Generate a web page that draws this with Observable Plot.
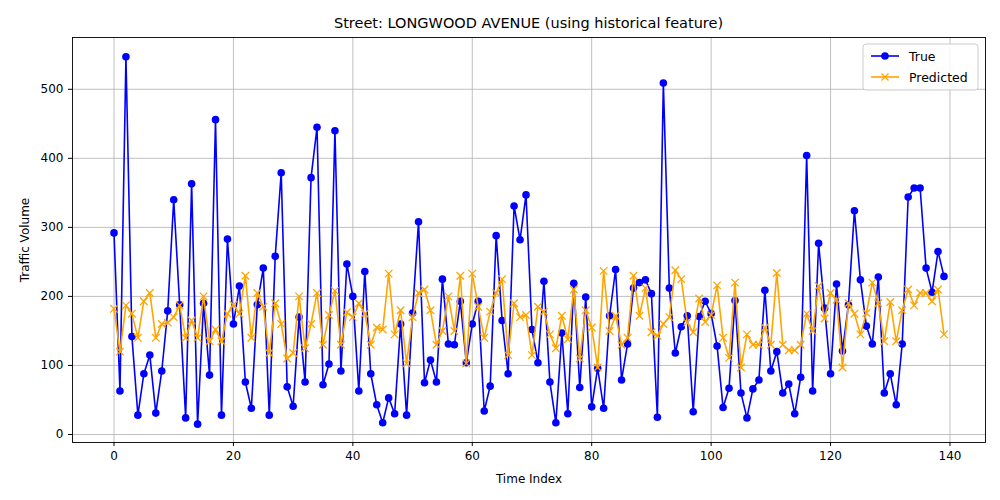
<!DOCTYPE html>
<html><head><meta charset="utf-8">
<script src="https://cdn.jsdelivr.net/npm/d3@7"></script>
<script src="https://cdn.jsdelivr.net/npm/@observablehq/plot@0.6"></script>
<style>body{margin:0;background:#fff;font-family:"DejaVu Sans",sans-serif}</style>
</head><body><div id="chart"></div>
<script>
const trueValues = [292,63,547,142,28,88,115,31,92,179,340,188,24,363,15,190,86,456,28,283,160,215,76,38,188,241,28,258,379,69,41,170,76,372,445,72,102,440,92,247,200,63,236,88,43,17,53,30,160,28,176,308,75,108,76,225,131,130,193,104,160,193,34,70,288,165,88,331,282,347,152,104,222,76,17,147,30,219,68,199,40,96,38,172,239,79,131,212,220,224,204,25,509,212,118,156,172,33,171,193,175,128,39,67,194,60,24,66,79,209,92,120,60,73,30,83,404,63,277,183,88,218,121,188,324,224,157,131,228,60,88,43,131,344,357,357,241,206,265,229];
const predValues = [182,120,187,175,140,193,205,140,160,162,170,187,140,165,140,200,135,152,135,175,188,175,230,140,205,185,118,190,160,110,118,200,125,160,205,130,173,208,130,177,170,190,175,130,155,152,233,145,180,103,170,205,210,180,130,150,200,150,230,103,233,185,140,178,205,225,115,190,170,173,115,185,178,145,125,172,138,210,110,180,155,97,237,150,172,130,140,230,172,212,148,143,160,170,238,225,162,148,197,163,173,216,140,111,220,97,145,130,130,155,130,234,130,122,122,130,175,150,215,168,205,195,97,190,175,145,176,220,190,135,192,135,180,210,187,205,205,193,210,145];
const xTicks = [0,20,40,60,80,100,120,140];
const yTicks = [0,100,200,300,400,500];
const data = trueValues.map((v,i)=>({i, t:v, p:predValues[i]}));
const ML=72, MR=15, MT=37, MB=58;
const chart = Plot.plot({
  width:1000, height:500, marginLeft:ML, marginRight:MR, marginTop:MT, marginBottom:MB,
  style:{fontFamily:"DejaVu Sans, sans-serif", fontSize:"12px", color:"#000", background:"#fff"},
  x:{domain:[-6.95,145.95], ticks:xTicks, label:"Time Index", labelAnchor:"center", labelArrow:"none", labelOffset:42, tickSize:4},
  y:{domain:[-11.6,575], ticks:yTicks, label:"Traffic Volume", labelAnchor:"center", labelArrow:"none", labelOffset:55, tickSize:4},
  marks:[
    Plot.gridX(xTicks,{stroke:"#b0b0b0", strokeOpacity:1, strokeWidth:0.8}),
    Plot.gridY(yTicks,{stroke:"#b0b0b0", strokeOpacity:1, strokeWidth:0.8}),
    Plot.axisX({ticks:xTicks, tickSize:4, fontSize:12, label:"Time Index", labelAnchor:"center", labelArrow:"none", labelOffset:40}),
    Plot.axisY({ticks:yTicks, tickSize:4, fontSize:12, label:"Traffic Volume", labelAnchor:"center", labelArrow:"none", labelOffset:52}),
    Plot.line(data,{x:"i", y:"t", stroke:"blue", strokeWidth:1.6}),
    Plot.dot(data,{x:"i", y:"t", fill:"blue", r:3.8}),
    Plot.line(data,{x:"i", y:"p", stroke:"orange", strokeWidth:1.6}),
    Plot.dot(data,{x:"i", y:"p", symbol:"times", stroke:"orange", r:3.5, strokeWidth:1.3}),
    Plot.frame({stroke:"#000", strokeWidth:0.9})
  ]
});
const svg = d3.select(chart);
svg.append("text").attr("x", ML+(1000-ML-MR)/2).attr("y", 28).attr("text-anchor","middle")
  .attr("font-size", 14.5).attr("font-family","DejaVu Sans, sans-serif").text("Street: LONGWOOD AVENUE (using historical feature)");
const lg = svg.append("g").attr("transform","translate(863,44)").attr("text-anchor","start");
lg.append("rect").attr("width",115).attr("height",46).attr("rx",3).attr("fill","#fff").attr("fill-opacity",0.85).attr("stroke","#ccc");
lg.append("line").attr("x1",8).attr("x2",36).attr("y1",12).attr("y2",12).attr("stroke","blue").attr("stroke-width",1.6);
lg.append("circle").attr("cx",22).attr("cy",12).attr("r",3.8).attr("fill","blue");
lg.append("text").attr("x",46).attr("y",16.5).attr("text-anchor","start").attr("font-size",12.5).attr("font-family","DejaVu Sans, sans-serif").text("True");
lg.append("line").attr("x1",8).attr("x2",36).attr("y1",33).attr("y2",33).attr("stroke","orange").attr("stroke-width",1.6);
lg.append("path").attr("d","M18.5,29.5L25.5,36.5M25.5,29.5L18.5,36.5").attr("stroke","orange").attr("stroke-width",1.3);
lg.append("text").attr("x",46).attr("y",37.5).attr("text-anchor","start").attr("font-size",12.5).attr("font-family","DejaVu Sans, sans-serif").text("Predicted");
document.getElementById("chart").appendChild(chart);
</script></body></html>
